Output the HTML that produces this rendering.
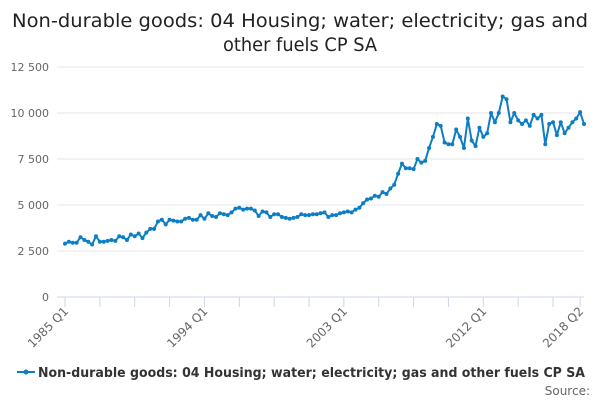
<!DOCTYPE html>
<html><head><meta charset="utf-8"><style>
body{margin:0;background:#fff;font-family:"DejaVu Sans","Liberation Sans",sans-serif}
svg{display:block}
text{font-family:"DejaVu Sans","Liberation Sans",sans-serif}
</style></head><body>
<svg id="c" width="600" height="400">
<text x="12" y="27" font-size="19" fill="#222" textLength="576" lengthAdjust="spacingAndGlyphs">Non-durable goods: 04 Housing; water; electricity; gas and</text>
<text x="223" y="51" font-size="19" fill="#222" textLength="154" lengthAdjust="spacingAndGlyphs">other fuels CP SA</text>
<g id="grid"></g><g id="xa"></g><g id="plot"></g>
<g>
<line x1="17" y1="372" x2="35" y2="372" stroke="#0d7ec3" stroke-width="2"/>
<circle cx="26" cy="372" r="2.5" fill="#0d7ec3"/>
<text x="38" y="377" font-size="13" font-weight="bold" fill="#333" textLength="547" lengthAdjust="spacingAndGlyphs">Non-durable goods: 04 Housing; water; electricity; gas and other fuels CP SA</text>
</g>
<text x="590" y="395" text-anchor="end" font-size="12" fill="#666">Source:</text>
</svg>
<script>
const values=[2900,3000,2950,2950,3250,3100,3000,2850,3300,3000,3000,3050,3100,3050,3300,3250,3100,3400,3300,3450,3200,3500,3700,3700,4100,4200,3950,4200,4150,4100,4100,4250,4300,4200,4200,4450,4250,4550,4400,4350,4550,4500,4450,4600,4800,4850,4750,4800,4800,4700,4400,4650,4600,4350,4500,4500,4350,4300,4250,4300,4350,4500,4450,4450,4500,4500,4550,4600,4350,4450,4450,4550,4600,4650,4600,4750,4850,5100,5300,5350,5500,5450,5700,5600,5900,6100,6700,7250,7000,7000,6950,7500,7300,7400,8100,8700,9400,9300,8400,8300,8300,9100,8700,8100,9700,8500,8200,9200,8700,8900,10000,9500,10000,10900,10750,9500,10000,9600,9400,9600,9300,9900,9700,9900,8300,9400,9500,8800,9500,8900,9200,9500,9700,10050,9400];
const yTicks=[0,2500,5000,7500,10000,12500];
const yTickLabels=["0","2 500","5 000","7 500","10 000","12 500"];
const xLabelIdx=[0,36,72,108,133];
const xLabels=["1985 Q1","1994 Q1","2003 Q1","2012 Q1","2018 Q2"];
const NS="http://www.w3.org/2000/svg";
const x0=65,x1=584,y0=297,y1=67;
function xs(i){return x0+(x1-x0)*i/(values.length-1);}
function ys(v){return y0-(y0-y1)*v/12500;}
function mk(t,a,p){const e=document.createElementNS(NS,t);for(const k in a)e.setAttribute(k,a[k]);p.appendChild(e);return e;}
const grid=document.getElementById('grid');
yTicks.forEach((v,i)=>{
  const l=mk('line',{x1:57,x2:584,y1:ys(v),y2:ys(v),stroke:v===0?'#ccd6eb':'#e6e6e6','stroke-width':1},grid);
  
  
  const t=mk('text',{x:49,y:ys(v)+4,'text-anchor':'end','font-size':11,fill:'#666'},grid);
  t.textContent=yTickLabels[i];
  
  
});
const xa=document.getElementById('xa');
for(let i=0;i<values.length;i+=9){
  const l=mk('line',{x1:xs(i),x2:xs(i),y1:297,y2:307,stroke:'#ccd6eb'},xa);
  
  
}
const lt=mk('line',{x1:xs(133),x2:xs(133),y1:297,y2:307,stroke:'#ccd6eb'},xa);


xLabelIdx.forEach((idx,i)=>{
  const x=xs(idx)+4,y=312;
  const t=mk('text',{x:x,y:y,'text-anchor':'end','font-size':12,fill:'#666',transform:`rotate(-45 ${x} ${y})`},xa);
  t.textContent=xLabels[i];
  
  
});
const plot=document.getElementById('plot');
const path=mk('polyline',{points:values.map((v,i)=>xs(i)+','+ys(v)).join(' '),fill:'none',stroke:'#0d7ec3','stroke-width':2,'stroke-linejoin':'round'},plot);


values.forEach((v,i)=>{
  const c=mk('circle',{cx:xs(i),cy:ys(v),r:2,fill:'#0d7ec3'},plot);
  
  
});
</script>
</body></html>
